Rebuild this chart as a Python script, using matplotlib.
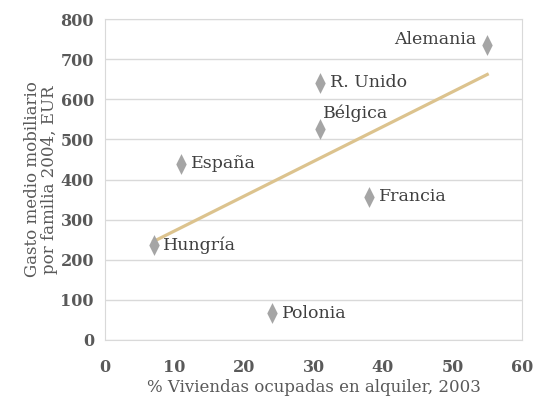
import matplotlib.pyplot as plt
import numpy as np

plt.rcParams['font.family'] = ['DejaVu Serif']

paises = ['Alemania', 'R. Unido', 'Bélgica', 'España', 'Francia', 'Hungría', 'Polonia']
alquiler = [55, 31, 31, 11, 38, 7, 24]
gasto = [736, 641, 526, 439, 357, 237, 67]

fig = plt.figure(figsize=(5.38, 3.99), dpi=100)
ax = fig.add_axes([105 / 538, 59 / 399, 417 / 538, 321 / 399])

# linea de tendencia
a, b = np.polyfit(alquiler, gasto, 1)
xs = np.array([min(alquiler), max(alquiler)])
ax.plot(xs, a * xs + b, color='#dcc38e', lw=2.3, zorder=2)

rombo = [(0, 1), (0.5, 0), (0, -1), (-0.5, 0), (0, 1)]
ax.plot(alquiler, gasto, ls='none', marker=rombo, color='#a5a5a5', ms=15,
        mew=0, zorder=3)

# etiquetas
offs = {'Alemania': (-8, 4, 'right', 'center'),
        'Bélgica': (2, 5, 'left', 'bottom')}
for p, x, y in zip(paises, alquiler, gasto):
    dx, dy, ha, va = offs.get(p, (7, 0, 'left', 'center'))
    ax.annotate(p, (x, y), xytext=(dx, dy), textcoords='offset points',
                ha=ha, va=va, fontsize=12.5, color='#3f3f3f', zorder=4)

ax.set_xlim(0, 60)
ax.set_ylim(0, 800)
ax.set_xticks(range(0, 61, 10))
ax.set_yticks(range(0, 801, 100))
ax.yaxis.grid(True, color='#d9d9d9', lw=1)
ax.set_axisbelow(True)
for s in ax.spines.values():
    s.set_color('#d9d9d9')
ax.tick_params(length=0, labelsize=11.5, labelcolor='#595959', pad=8)
for t in ax.get_xticklabels() + ax.get_yticklabels():
    t.set_fontweight('bold')
ax.tick_params(axis='x', pad=14)

ax.set_xlabel('% Viviendas ocupadas en alquiler, 2003', fontsize=12,
              color='#595959', labelpad=2)
ax.set_ylabel('Gasto medio mobiliario\npor familia 2004, EUR', fontsize=12,
              color='#595959', labelpad=2, linespacing=0.95)

fig.savefig('out.png', dpi=100)
